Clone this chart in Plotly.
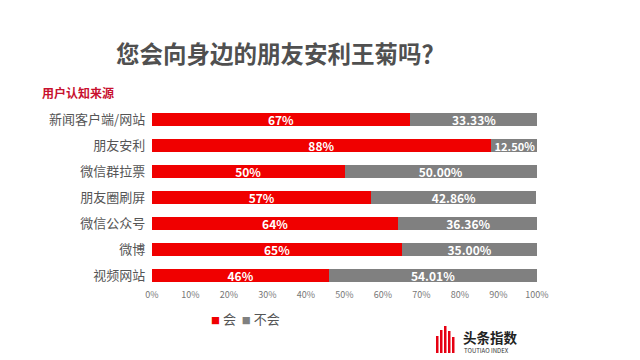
import plotly.graph_objects as go

categories = ["新闻客户端/网站", "朋友安利", "微信群拉票", "朋友圈刷屏", "微信公众号", "微博", "视频网站"]
yes_vals = [67, 88, 50, 57, 64, 65, 46]
no_vals = [33.33, 12.50, 50.00, 42.86, 36.36, 35.00, 54.01]
yes_labels = ["67%", "88%", "50%", "57%", "64%", "65%", "46%"]
no_labels = ["33.33%", "12.50%", "50.00%", "42.86%", "36.36%", "35.00%", "54.01%"]
series_names = ["会", "不会"]
series_colors = ["#f00000", "#808080"]
tick_vals = [0, 10, 20, 30, 40, 50, 60, 70, 80, 90, 100]
tick_text = [f"{v}%" for v in tick_vals]

FONT = "Noto Sans CJK SC"

# page is rendered with an 8px body margin; work in page coordinates
OFF = 8
W, H = 640 - OFF, 360 - OFF
# plot area in page coordinates: x 152..537, y 107..288
pl = 152 - OFF
pr = 640 - 537
pt = 107 - OFF
pb = 360 - 288
pw, ph = W - pl - pr, H - pt - pb

def px(x):
    return (x - OFF - pl) / pw

def py(y):
    return (H - pb - (y - OFF)) / ph

fig = go.Figure()
for vals, labels, name, color in [(yes_vals, yes_labels, series_names[0], series_colors[0]),
                                  (no_vals, no_labels, series_names[1], series_colors[1])]:
    sizes = [11 if v < 15 else 12 for v in vals]
    fig.add_trace(go.Bar(
        y=categories, x=vals, name=name, orientation="h",
        marker=dict(color=color, line=dict(width=0)),
        text=[f"<b>{t}</b>" for t in labels], textposition="inside",
        insidetextanchor="middle",
        textfont=dict(color="white", size=sizes, family=FONT),
    ))

legend_text = (
    f"<span style='color:{series_colors[0]};font-size:9px'>■</span> {series_names[0]}"
    f"  <span style='color:{series_colors[1]};font-size:9px'>■</span> {series_names[1]}"
)

fig.update_layout(
    barmode="stack",
    bargap=0.5,
    width=W, height=H,
    margin=dict(l=pl, r=pr, t=pt, b=pb, autoexpand=False),
    paper_bgcolor="white", plot_bgcolor="white",
    font=dict(family=FONT, color="#555555"),
    uniformtext=dict(minsize=8, mode="show"),
    showlegend=False,
    xaxis=dict(range=[0, 100], tickvals=tick_vals, ticktext=tick_text,
               showgrid=False, zeroline=False, showline=False, automargin=False,
               tickfont=dict(size=9, color="#777777"), ticklen=0),
    yaxis=dict(autorange="reversed", showgrid=False, showline=False, automargin=False,
               tickfont=dict(size=13, color="#555555"), ticksuffix="  "),
    annotations=[
        dict(text="<b>您会向身边的朋友安利王菊吗？</b>", xref="paper", yref="paper",
             x=px(280), y=py(53), xanchor="center", yanchor="middle", showarrow=False,
             font=dict(size=23.5, color="#505050", family=FONT)),
        dict(text="<b>用户认知来源</b>", xref="paper", yref="paper",
             x=px(40), y=py(92), xanchor="left", yanchor="middle", showarrow=False,
             font=dict(size=12, color="#c8102e", family=FONT)),
        dict(text=legend_text, xref="paper", yref="paper",
             x=px(245), y=py(318), xanchor="center", yanchor="middle", showarrow=False,
             font=dict(size=13, color="#555555", family=FONT)),
        dict(text="<b>头条指数</b>", xref="paper", yref="paper",
             x=px(461), y=py(337), xanchor="left", yanchor="middle", showarrow=False,
             font=dict(size=13.5, color="#222222", family=FONT)),
        dict(text="TOUTIAO INDEX", xref="paper", yref="paper",
             x=px(462), y=py(350), xanchor="left", yanchor="middle", showarrow=False,
             font=dict(size=6, color="#333333", family=FONT)),
    ],
)

# logo bars (decorative)
logo_bars = [(436, 336), (440, 330), (444, 326), (448, 331), (452, 337)]
for x0, ytop in logo_bars:
    fig.add_shape(type="rect", xref="paper", yref="paper",
                  x0=px(x0), x1=px(x0 + 2.5), y0=py(353), y1=py(ytop),
                  fillcolor="#e60012", line=dict(width=0))

fig.write_html("out.html")
